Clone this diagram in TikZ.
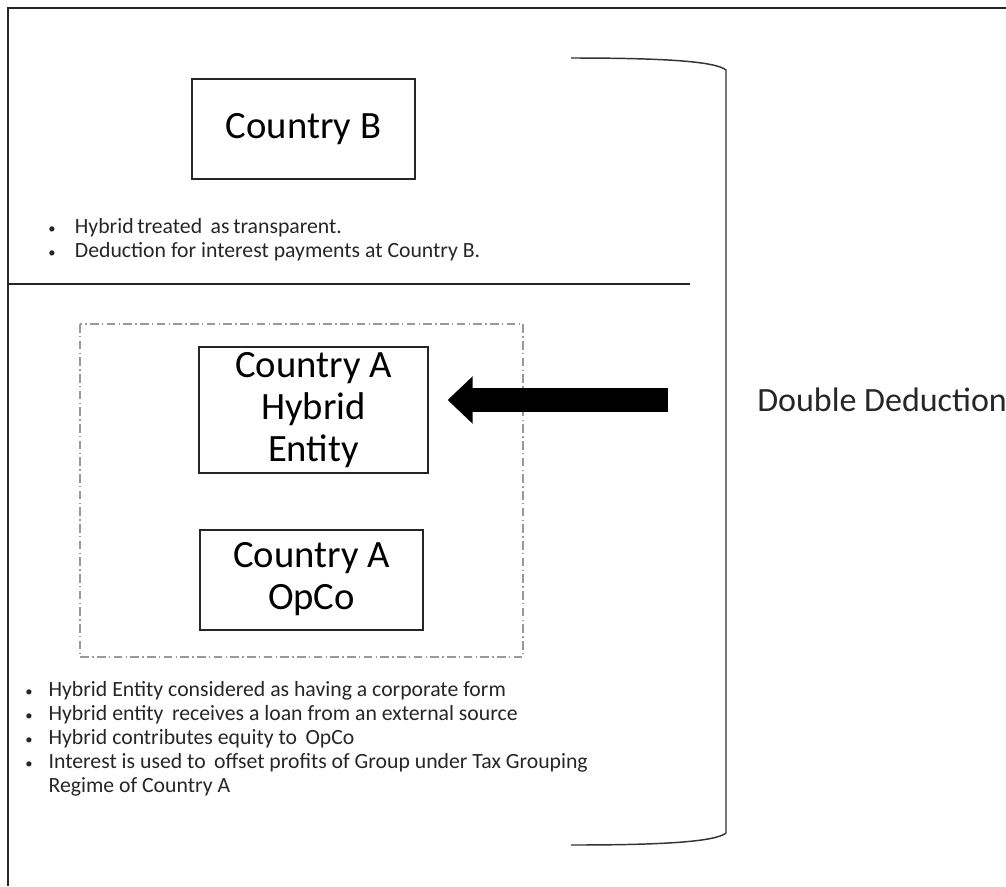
\documentclass[tikz,border=0pt]{standalone}
\usepackage{fontspec}
\setmainfont{Carlito}
\usetikzlibrary{arrows.meta}
\newcommand\smbul{{\fontsize{11}{11}\selectfont\textbullet}}
\begin{document}
\begin{tikzpicture}[x=0.75pt,y=-0.75pt,
  frame/.style={draw=black!85, line width=1.3pt},
  entity/.style={draw=black!85, line width=1pt, align=center, inner sep=0pt,
    font=\fontsize{29}{31.5}\selectfont},
  bulletlist/.style={inner sep=0pt, anchor=west, font=\fontsize{16.3}{18}\selectfont, text=black!85},
  dashdot/.style={draw=black!40, line width=0.8pt, dash pattern=on 6.5pt off 2.5pt on 1pt off 2.5pt},
  bigarrow/.style={line width=18pt, -{Triangle[length=18.75pt,width=34.5pt]}},
  brace/.style={draw=black!80, line width=1.1pt}]
\useasboundingbox (0,0) rectangle (1006,886);
% outer frame lines
\draw[frame] (1006,8) -- (8,8) -- (8,886);
\draw[frame, line width=1pt] (8,284) -- (690,284);
% Country B
\node[entity, minimum width=167.25pt, minimum height=75pt] (cb) at (303.5,129) {Country B};
\node[bulletlist] (blist) at (48,240.5) {\begin{tabular}{@{}p{20pt}@{}l@{}}
\smbul & Hybrid\,treated\, as\,transparent.\\
\smbul & Deduction for interest payments at Country B.
\end{tabular}};
% Country A group
\draw[dashdot] (80,324) rectangle (523,657);
\node[entity, minimum width=171.75pt, minimum height=94.5pt] (hyb) at (313.5,410) {Country A\\Hybrid\\Entity};
\node[entity, minimum width=167.25pt, minimum height=75pt] (opco) at (311.5,580) {\raisebox{-1.5pt}{\begin{tabular}{@{}c@{}}Country A\\OpCo\end{tabular}}};
\node[bulletlist] (alist) at (25,740) {\begin{tabular}{@{}p{17.5pt}@{}l@{}}
\smbul & Hybrid Entity considered as having a corporate form\\
\smbul & Hybrid entity\, receives a loan from an external source\\
\smbul & Hybrid contributes equity to\, OpCo\\
\smbul & Interest is used to\, offset profits of Group under Tax Grouping\\
 & Regime of Country A
\end{tabular}};
% arrow
\coordinate (arrtail) at (668,400);
\draw[bigarrow, shorten >=14.25pt] (arrtail) -- (hyb.east |- arrtail);
% brace
\draw[brace] (571,58) .. controls (660,58) and (715,61) .. (726,70) -- (726,833)
  .. controls (715,842) and (660,845) .. (571,845);
\node[anchor=west, inner sep=0pt, font=\fontsize{25.5}{30}\selectfont, text=black!85] (dd) at (757,400) {Double Deduction};
\end{tikzpicture}
\end{document}
